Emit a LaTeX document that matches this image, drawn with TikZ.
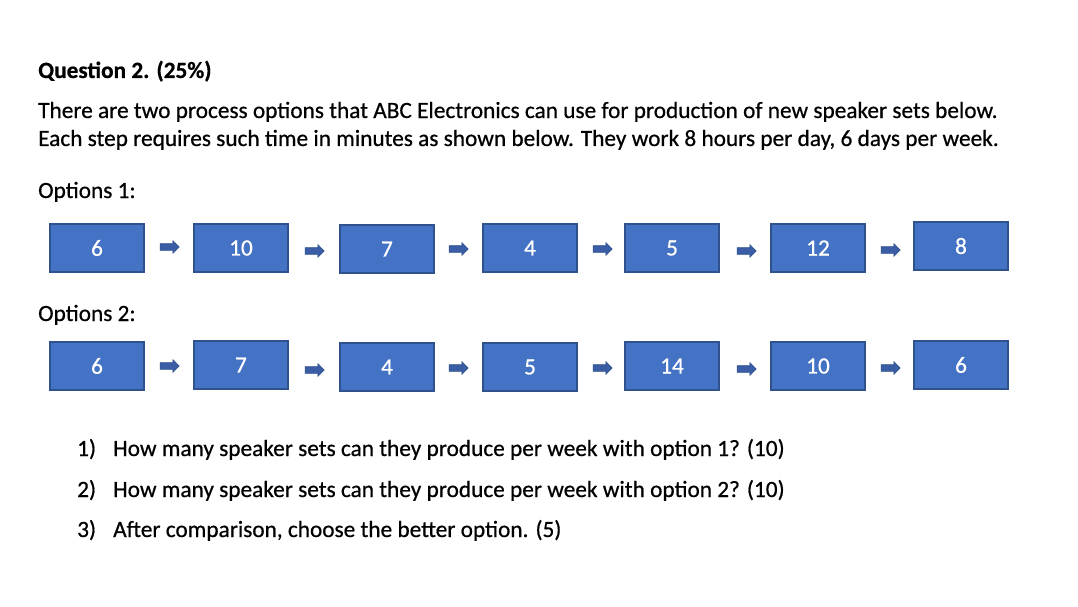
\documentclass[tikz,border=0pt]{standalone}
\usepackage{fontspec}
\setmainfont{Carlito}[FakeBold=0.6]
\newfontfamily\boldq{Carlito}[FakeBold=1.2]
\usetikzlibrary{shapes.arrows}
\definecolor{boxfill}{HTML}{4472C4}
\definecolor{boxline}{HTML}{2F528F}
\definecolor{arrfill}{HTML}{3A5DA6}
\begin{document}
\begin{tikzpicture}[x=1pt,y=-1pt,
  txt/.style={anchor=base west,inner sep=0pt,font=\fontsize{23.3}{28}\selectfont},
  stepbox/.style={draw=boxline,line width=1.8pt,fill=boxfill,minimum width=94pt,minimum height=48pt,inner sep=0pt,text=white,font=\fontsize{23.3}{28}\selectfont},
  blockarr/.style={single arrow,draw=boxline,line width=0.6pt,fill=arrfill,minimum height=19pt,inner xsep=0pt,inner ysep=3pt,single arrow head extend=3pt,single arrow tip angle=90}]
\useasboundingbox (0,0) rectangle (1078,607);
\fill[white] (0,0) rectangle (1078,607);
\node[txt,font=\fontsize{23.3}{28}\selectfont\bfseries] (q) at (38,78) {Question 2. (25\%)};
\node[txt] (l1) at (38,118) {There are two process options that ABC Electronics can use for production of new speaker sets below.};
\node[txt] (l2) at (38,146) {Each step requires such time in minutes as shown below. They work 8 hours per day, 6 days per week.};
\node[txt] (o1) at (38,198) {Options 1:};
\node[txt] (o2) at (38,321) {Options 2:};
% row 1
\node[stepbox] (a1) at (97,248) {6};
\node[stepbox] (a2) at (241,248) {10};
\node[stepbox] (a3) at (387,249) {7};
\node[stepbox] (a4) at (530,248) {4};
\node[stepbox] (a5) at (672,248) {5};
\node[stepbox] (a6) at (818,248) {12};
\node[stepbox] (a7) at (961,246) {8};
\node[blockarr] (ar1) at (168,247) {};
\node[blockarr] (ar2) at (313,251) {};
\node[blockarr] (ar3) at (457,249) {};
\node[blockarr] (ar4) at (601,249) {};
\node[blockarr] (ar5) at (745,251) {};
\node[blockarr] (ar6) at (889,250) {};
% row 2
\node[stepbox] (b1) at (97,366) {6};
\node[stepbox] (b2) at (241,365) {7};
\node[stepbox] (b3) at (387,367) {4};
\node[stepbox] (b4) at (530,367) {5};
\node[stepbox] (b5) at (672,366) {14};
\node[stepbox] (b6) at (818,366) {10};
\node[stepbox] (b7) at (961,365) {6};
\node[blockarr] (br1) at (168,366) {};
\node[blockarr] (br2) at (313,370) {};
\node[blockarr] (br3) at (457,368) {};
\node[blockarr] (br4) at (601,368) {};
\node[blockarr] (br5) at (745,369) {};
\node[blockarr] (br6) at (889,368) {};
% questions
\node[txt] (n1) at (77,456) {1)};
\node[txt] (t1) at (113,456) {How many speaker sets can they produce per week with option 1? (10)};
\node[txt] (n2) at (77,497) {2)};
\node[txt] (t2) at (113,497) {How many speaker sets can they produce per week with option 2? (10)};
\node[txt] (n3) at (77,537) {3)};
\node[txt] (t3) at (113,537) {After comparison, choose the better option. (5)};
\end{tikzpicture}
\end{document}
